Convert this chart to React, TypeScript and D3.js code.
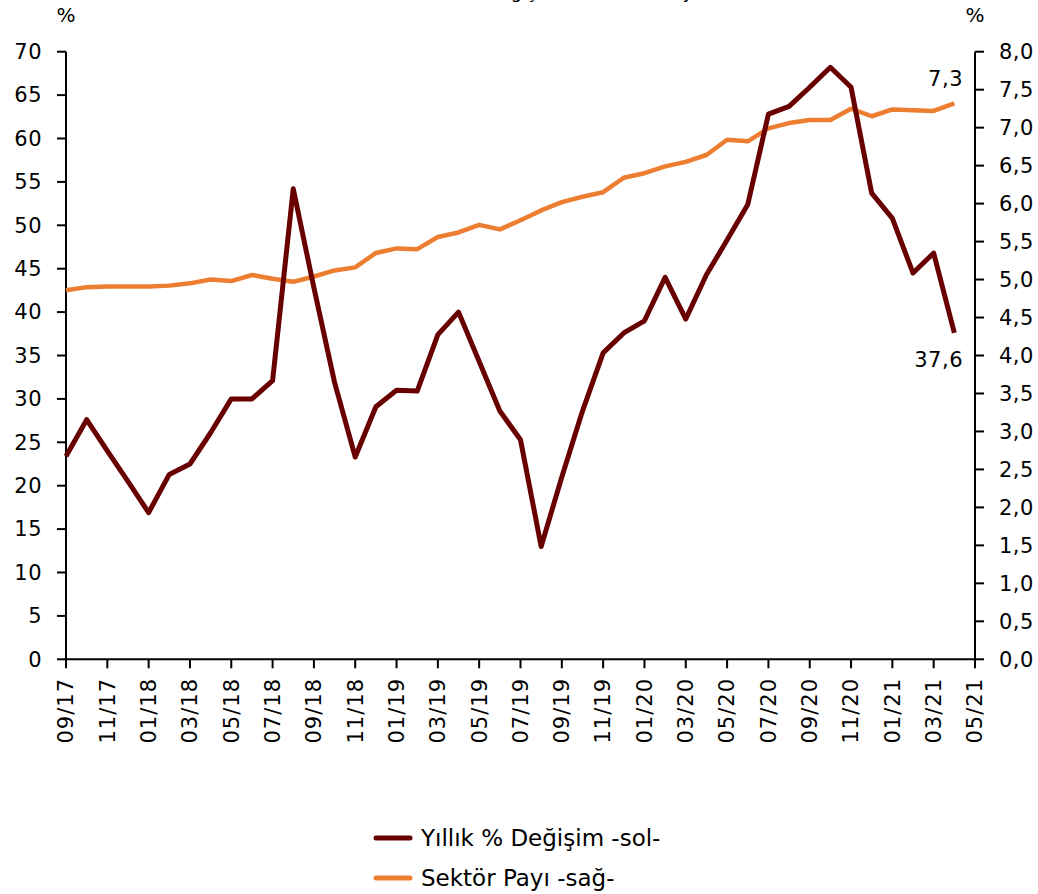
import React from "react";
import * as d3 from "d3";

const months: string[] = [
  "09/17","10/17","11/17","12/17","01/18","02/18","03/18","04/18","05/18","06/18","07/18","08/18",
  "09/18","10/18","11/18","12/18","01/19","02/19","03/19","04/19","05/19","06/19","07/19","08/19",
  "09/19","10/19","11/19","12/19","01/20","02/20","03/20","04/20","05/20","06/20","07/20","08/20",
  "09/20","10/20","11/20","12/20","01/21","02/21","03/21","04/21",
];

const tickLabels: string[] = [
  "09/17","11/17","01/18","03/18","05/18","07/18","09/18","11/18","01/19","03/19","05/19","07/19",
  "09/19","11/19","01/20","03/20","05/20","07/20","09/20","11/20","01/21","03/21","05/21",
];

const annualChange: number[] = [
  23.4, 27.6, 24.0, 20.5, 16.9, 21.3, 22.5, 26.1, 30.0, 30.0, 32.1, 54.2,
  42.8, 31.9, 23.3, 29.1, 31.0, 30.9, 37.4, 40.0, 34.3, 28.6, 25.3, 13.0,
  21.0, 28.6, 35.3, 37.6, 39.0, 44.0, 39.2, 44.3, 48.3, 52.4, 62.8, 63.7,
  65.9, 68.2, 65.9, 53.7, 50.8, 44.5, 46.8, 37.6,
];

const sectorShare: number[] = [
  4.86, 4.90, 4.91, 4.91, 4.91, 4.92, 4.95, 5.00, 4.98, 5.06, 5.01, 4.97,
  5.04, 5.12, 5.16, 5.35, 5.41, 5.40, 5.56, 5.62, 5.72, 5.66, 5.78, 5.91,
  6.02, 6.09, 6.15, 6.34, 6.40, 6.49, 6.55, 6.64, 6.84, 6.82, 6.99, 7.06,
  7.10, 7.10, 7.25, 7.15, 7.24, 7.23, 7.22, 7.32,
];

const leftTicks: number[] = [0, 5, 10, 15, 20, 25, 30, 35, 40, 45, 50, 55, 60, 65, 70];
const rightTicks: number[] = [0, 0.5, 1, 1.5, 2, 2.5, 3, 3.5, 4, 4.5, 5, 5.5, 6, 6.5, 7, 7.5, 8];

const seriesNames: string[] = ["Yıllık % Değişim -sol-", "Sektör Payı -sağ-"];
const titleText = "Yıllık Harcama Değişimi ve Sektör Payı";

const MAROON = "#680000";
const ORANGE = "#ED7D31";
const FONT = "'DejaVu Sans', Verdana, sans-serif";

export default function App() {
  const W = 1038, H = 894;
  const left = 66, right = 975, top = 51.7, bottom = 659.3;

  const x = d3.scaleLinear().domain([0, tickLabels.length * 2 - 2]).range([left, right]);
  const yL = d3.scaleLinear().domain([0, 70]).range([bottom, top]);
  const yR = d3.scaleLinear().domain([0, 8]).range([bottom, top]);

  const lineL = d3.line<number>().x((_, i) => x(i)).y((d) => yL(d));
  const lineR = d3.line<number>().x((_, i) => x(i)).y((d) => yR(d));

  const fmt = (v: number) => d3.format(".1f")(v).replace(".", ",");
  const lastI = annualChange.length - 1;

  return (
    <svg width={W} height={H} style={{ display: "block", fontFamily: FONT }}>
      <style>{`body{margin:0}`}</style>
      <rect width={W} height={H} fill="#fff" />
      <text x={525} y={-2} textAnchor="middle" fontSize={18} fill="#000">{titleText}</text>

      <text x={left} y={22} textAnchor="middle" fontSize={20} fill="#000">%</text>
      <text x={right} y={22} textAnchor="middle" fontSize={20} fill="#000">%</text>

      {/* left axis */}
      <line x1={left} x2={left} y1={top} y2={bottom} stroke="#000" strokeWidth={2} />
      {leftTicks.map((t) => (
        <g key={"l" + t}>
          <line x1={left - 9} x2={left} y1={yL(t)} y2={yL(t)} stroke="#000" strokeWidth={2} />
          <text x={42} y={yL(t)} dy="0.35em" textAnchor="end" fontSize={21} letterSpacing={0.5} fill="#000">{t}</text>
        </g>
      ))}

      {/* right axis */}
      <line x1={right} x2={right} y1={top} y2={bottom} stroke="#000" strokeWidth={2} />
      {rightTicks.map((t) => (
        <g key={"r" + t}>
          <line x1={right} x2={right + 9} y1={yR(t)} y2={yR(t)} stroke="#000" strokeWidth={2} />
          <text x={999} y={yR(t)} dy="0.35em" textAnchor="start" fontSize={21} letterSpacing={0.5} fill="#000">{fmt(t)}</text>
        </g>
      ))}

      {/* x axis */}
      <line x1={left} x2={right} y1={bottom} y2={bottom} stroke="#000" strokeWidth={2} />
      {tickLabels.map((lab, k) => {
        const xp = x(k * 2);
        return (
          <g key={"x" + lab}>
            <line x1={xp} x2={xp} y1={bottom} y2={bottom + 9} stroke="#000" strokeWidth={2} />
            <text transform={`translate(${xp},678) rotate(-90)`} dy="0.35em" textAnchor="end" fontSize={21} letterSpacing={1} fill="#000">{lab}</text>
          </g>
        );
      })}

      <path d={lineR(sectorShare) || ""} fill="none" stroke={ORANGE} strokeWidth={4.5} strokeLinejoin="round" />
      <path d={lineL(annualChange) || ""} fill="none" stroke={MAROON} strokeWidth={5} strokeLinejoin="round" />

      <text x={963} y={yR(sectorShare[lastI]) - 17} textAnchor="end" fontSize={21} letterSpacing={0.5} fill="#000">{fmt(sectorShare[lastI])}</text>
      <text x={963} y={yL(annualChange[lastI]) + 34} textAnchor="end" fontSize={21} letterSpacing={0.5} fill="#000">{fmt(annualChange[lastI])}</text>

      {/* legend */}
      {seriesNames.map((name, i) => (
        <g key={name} transform={`translate(0,${838 + i * 40})`}>
          <line x1={376} x2={410} y1={0} y2={0} stroke={i === 0 ? MAROON : ORANGE} strokeWidth={5} strokeLinecap="round" />
          <text x={421} y={0} dy="0.35em" fontSize={23} fill="#000">{name}</text>
        </g>
      ))}
    </svg>
  );
}
